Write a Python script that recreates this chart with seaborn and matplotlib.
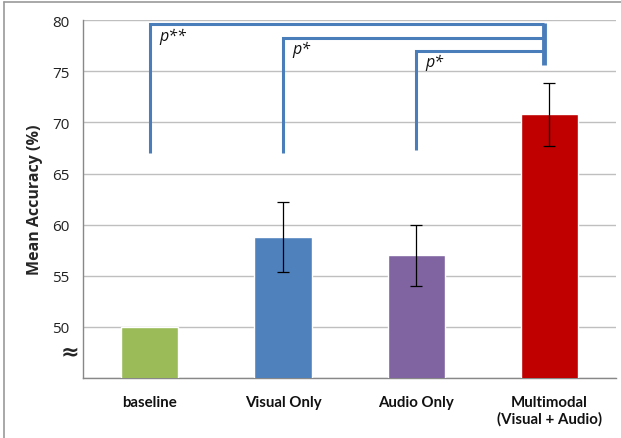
import matplotlib
matplotlib.use("Agg")
import matplotlib.pyplot as plt
import seaborn as sns
import pandas as pd
from matplotlib.lines import Line2D

categories = ["baseline", "Visual Only", "Audio Only", "Multimodal\n(Visual + Audio)"]
values = [50.0, 58.8, 57.0, 70.8]
errors = [0.0, 3.4, 3.0, 3.1]
colors = ["#9BBB59", "#4F81BD", "#8064A2", "#C00000"]
yticks = [50, 55, 60, 65, 70, 75, 80]

# significance brackets: (left bar index, top y, bottom y of left leg, label)
bracket_left = [0, 1, 2]
bracket_top = [79.6, 78.3, 77.0]
bracket_bottom = [67.0, 67.0, 67.3]
bracket_labels = ["p**", "p*", "p*"]
bracket_right_bottom = 75.6

sns.set_theme(style="white")
plt.rcParams['font.family'] = ['Lato', 'DejaVu Sans']

df = pd.DataFrame({"cat": categories, "val": values})
fig = plt.figure(figsize=(6.21, 4.39), dpi=100)
ax = fig.add_axes([0.1337, 0.1367, 0.992 - 0.1337, 0.9515 - 0.1367])

sns.barplot(data=df, x="cat", y="val", hue="cat", palette=colors, legend=False,
            width=0.43, ax=ax, saturation=1, zorder=3)
ax.errorbar(range(1, 4), values[1:], yerr=errors[1:], fmt="none", ecolor="black",
            elinewidth=0.9, capsize=4, capthick=0.9, zorder=4)

ax.set_ylim(45, 80)
ax.set_xlim(-0.5, 3.5)
ax.set_yticks([45] + yticks)
ax.set_yticklabels([""] + [str(t) for t in yticks], fontsize=11, color="#222222",
                   family="Open Sans")
ax.yaxis.grid(True, color="#BFBFBF", linewidth=1.0, zorder=0)
ax.set_axisbelow(True)
ax.set_xticks(range(4))
ax.set_xticklabels(categories, fontsize=10.8, fontweight="bold", color="#111111")
ax.set_xticks([-0.5, 0.5, 1.5, 2.5, 3.5], minor=True)
ax.tick_params(axis="x", which="major", length=0, pad=12)
ax.tick_params(axis="x", which="minor", length=5, color="#888888", width=1, direction="out")
ax.tick_params(axis="y", length=5, color="#888888", width=1, direction="out", pad=5)
ax.set_xlabel("")
ax.set_ylabel("Mean Accuracy (%)", fontsize=11.5, fontweight="bold", labelpad=6,
              family="Open Sans")
for s in ["top", "right"]:
    ax.spines[s].set_visible(False)
for s in ["left", "bottom"]:
    ax.spines[s].set_color("#888888")
    ax.spines[s].set_linewidth(1.0)

bc = "#4A7EBB"
for i, top, bot, lab in zip(bracket_left, bracket_top, bracket_bottom, bracket_labels):
    ax.plot([i, i, 2.96], [bot, top, top], color=bc, linewidth=2.2, zorder=5,
            solid_capstyle="butt", solid_joinstyle="miter", clip_on=False)
    ax.text(i + 0.07, top - 0.3, lab, fontsize=11.5, ha="left", va="top",
            style="italic", color="#111111", family="Open Sans")
ax.plot([2.96, 2.96], [bracket_top[0] + 0.1, bracket_right_bottom], color=bc,
        linewidth=3.5, zorder=5, solid_capstyle="butt", clip_on=False)

# axis break mark
fig.text(70 / 621, 1 - 352 / 439, "≈", fontsize=16, fontweight="bold",
         ha="center", va="center", family="DejaVu Sans")

# figure border
fig.add_artist(Line2D([4 / 621, 1], [1 - 3 / 439, 1 - 3 / 439], color="#999999", lw=1.2,
                      transform=fig.transFigure))
fig.add_artist(Line2D([4 / 621, 4 / 621], [0, 1 - 3 / 439], color="#999999", lw=1.2,
                      transform=fig.transFigure))

fig.savefig("out.png", dpi=100)
